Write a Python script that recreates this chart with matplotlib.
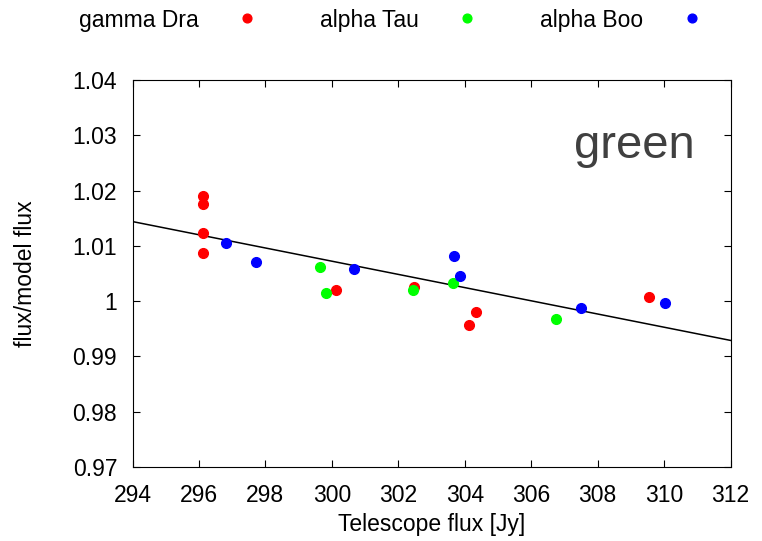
import numpy as np
import matplotlib
matplotlib.use("Agg")
import matplotlib.pyplot as plt

plt.rcParams['font.family'] = ['Liberation Sans', 'DejaVu Sans']

# data
gdra_x = [296.12, 296.12, 296.12, 296.12, 300.12, 302.47, 304.33, 304.14, 309.54]
gdra_y = [1.0190, 1.0176, 1.0123, 1.0087, 1.0020, 1.0026, 0.9980, 0.9956, 1.0008]
atau_x = [299.64, 299.82, 302.43, 303.65, 306.75]
atau_y = [1.0062, 1.0015, 1.0020, 1.0033, 0.9968]
aboo_x = [296.82, 297.71, 300.66, 303.69, 303.87, 307.51, 310.02]
aboo_y = [1.0105, 1.0070, 1.0058, 1.0081, 1.0046, 0.9987, 0.9996]
fit_x = [294, 312]
fit_y = [1.0144, 0.9929]

FS = 16.5

fig = plt.figure(figsize=(7.62, 5.41), dpi=100)
ax = fig.add_axes([0.1739, 0.1368, 0.7848, 0.852 - 0.1368])

ax.plot(fit_x, fit_y, color='black', lw=1.1)
h1, = ax.plot(gdra_x, gdra_y, 'o', color='#ff0000', ms=7, label='gamma Dra')
h2, = ax.plot(atau_x, atau_y, 'o', color='#00ff00', ms=7, label='alpha Tau')
h3, = ax.plot(aboo_x, aboo_y, 'o', color='#0000ff', ms=7, label='alpha Boo')

ax.set_xlim(294, 312)
ax.set_ylim(0.97, 1.04)
ax.set_xticks(np.arange(294, 313, 2))
ax.set_yticks(np.arange(0.97, 1.0401, 0.01))
ax.set_yticklabels(['0.97', '0.98', '0.99', '1', '1.01', '1.02', '1.03', '1.04'])
ax.tick_params(axis='x', direction='in', top=True, labelsize=FS, length=5, pad=12)
ax.tick_params(axis='y', direction='in', right=True, labelsize=FS, length=5, pad=11)
ax.set_xlabel('Telescope flux [Jy]', fontsize=FS)
ax.set_ylabel('flux/model flux', fontsize=FS)
ax.yaxis.set_label_coords(-0.16, 0.5)
ax.xaxis.set_label_coords(0.5, -0.12)

ax.text(0.9406, 0.83, 'green', transform=ax.transAxes, fontsize=34,
        color='#404040', ha='right', va='center')

fig.legend(handles=[h1, h2, h3], loc='center', bbox_to_anchor=(0.513, 0.963),
           ncol=3, frameon=False, markerfirst=False, fontsize=FS,
           handlelength=1.0, handletextpad=1.6, columnspacing=2.7,
           markerscale=0.9)

fig.savefig('out.png', dpi=100)
